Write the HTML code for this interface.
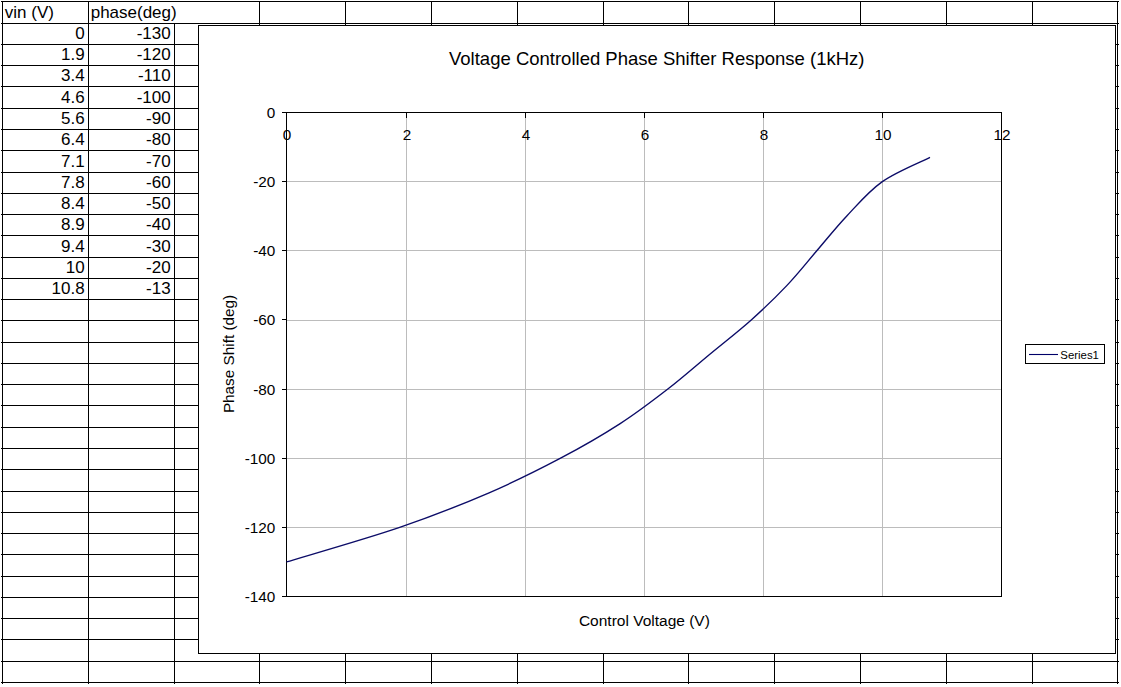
<!DOCTYPE html>
<html><head><meta charset="utf-8"><style>
html,body{margin:0;padding:0;background:#fff;width:1121px;height:687px;overflow:hidden}
svg{display:block}
</style></head><body>
<svg width="1121" height="687" viewBox="0 0 1121 687">
<g stroke="#000" stroke-width="1" shape-rendering="crispEdges"><line x1="1" y1="1.5" x2="1119" y2="1.5"/><line x1="1" y1="23.5" x2="1119" y2="23.5"/><line x1="1" y1="44.5" x2="1119" y2="44.5"/><line x1="1" y1="65.5" x2="1119" y2="65.5"/><line x1="1" y1="86.5" x2="1119" y2="86.5"/><line x1="1" y1="108.5" x2="1119" y2="108.5"/><line x1="1" y1="129.5" x2="1119" y2="129.5"/><line x1="1" y1="150.5" x2="1119" y2="150.5"/><line x1="1" y1="172.5" x2="1119" y2="172.5"/><line x1="1" y1="193.5" x2="1119" y2="193.5"/><line x1="1" y1="214.5" x2="1119" y2="214.5"/><line x1="1" y1="235.5" x2="1119" y2="235.5"/><line x1="1" y1="257.5" x2="1119" y2="257.5"/><line x1="1" y1="278.5" x2="1119" y2="278.5"/><line x1="1" y1="299.5" x2="1119" y2="299.5"/><line x1="1" y1="320.5" x2="1119" y2="320.5"/><line x1="1" y1="342.5" x2="1119" y2="342.5"/><line x1="1" y1="363.5" x2="1119" y2="363.5"/><line x1="1" y1="384.5" x2="1119" y2="384.5"/><line x1="1" y1="405.5" x2="1119" y2="405.5"/><line x1="1" y1="427.5" x2="1119" y2="427.5"/><line x1="1" y1="448.5" x2="1119" y2="448.5"/><line x1="1" y1="469.5" x2="1119" y2="469.5"/><line x1="1" y1="491.5" x2="1119" y2="491.5"/><line x1="1" y1="512.5" x2="1119" y2="512.5"/><line x1="1" y1="533.5" x2="1119" y2="533.5"/><line x1="1" y1="554.5" x2="1119" y2="554.5"/><line x1="1" y1="576.5" x2="1119" y2="576.5"/><line x1="1" y1="597.5" x2="1119" y2="597.5"/><line x1="1" y1="618.5" x2="1119" y2="618.5"/><line x1="1" y1="639.5" x2="1119" y2="639.5"/><line x1="1" y1="661.5" x2="1119" y2="661.5"/><line x1="1" y1="682.5" x2="1119" y2="682.5"/><line x1="2.5" y1="1" x2="2.5" y2="684"/><line x1="88.5" y1="1" x2="88.5" y2="684"/><line x1="174.5" y1="23" x2="174.5" y2="684"/><line x1="259.5" y1="1" x2="259.5" y2="684"/><line x1="345.5" y1="1" x2="345.5" y2="684"/><line x1="431.5" y1="1" x2="431.5" y2="684"/><line x1="517.5" y1="1" x2="517.5" y2="684"/><line x1="603.5" y1="1" x2="603.5" y2="684"/><line x1="688.5" y1="1" x2="688.5" y2="684"/><line x1="774.5" y1="1" x2="774.5" y2="684"/><line x1="860.5" y1="1" x2="860.5" y2="684"/><line x1="946.5" y1="1" x2="946.5" y2="684"/><line x1="1032.5" y1="1" x2="1032.5" y2="684"/><line x1="1117.5" y1="1" x2="1117.5" y2="684"/></g>
<g font-family='"Liberation Sans", sans-serif' font-size="17" fill="#000"><text x="4.8" y="17.5">vin (V)</text><text x="90.7" y="17.5">phase(deg)</text><text x="84.7" y="39" text-anchor="end">0</text><text x="170.7" y="39" text-anchor="end">-130</text><text x="84.7" y="60" text-anchor="end">1.9</text><text x="170.7" y="60" text-anchor="end">-120</text><text x="84.7" y="81" text-anchor="end">3.4</text><text x="170.7" y="81" text-anchor="end">-110</text><text x="84.7" y="103" text-anchor="end">4.6</text><text x="170.7" y="103" text-anchor="end">-100</text><text x="84.7" y="124" text-anchor="end">5.6</text><text x="170.7" y="124" text-anchor="end">-90</text><text x="84.7" y="145" text-anchor="end">6.4</text><text x="170.7" y="145" text-anchor="end">-80</text><text x="84.7" y="167" text-anchor="end">7.1</text><text x="170.7" y="167" text-anchor="end">-70</text><text x="84.7" y="188" text-anchor="end">7.8</text><text x="170.7" y="188" text-anchor="end">-60</text><text x="84.7" y="209" text-anchor="end">8.4</text><text x="170.7" y="209" text-anchor="end">-50</text><text x="84.7" y="230" text-anchor="end">8.9</text><text x="170.7" y="230" text-anchor="end">-40</text><text x="84.7" y="252" text-anchor="end">9.4</text><text x="170.7" y="252" text-anchor="end">-30</text><text x="84.7" y="273" text-anchor="end">10</text><text x="170.7" y="273" text-anchor="end">-20</text><text x="84.7" y="294" text-anchor="end">10.8</text><text x="170.7" y="294" text-anchor="end">-13</text></g>
<rect x="198.5" y="25.5" width="917" height="628" fill="#fff" stroke="#000" stroke-width="1" shape-rendering="crispEdges"/><g stroke="#bcbcbc" stroke-width="1" shape-rendering="crispEdges"><line x1="406.5" y1="112" x2="406.5" y2="596"/><line x1="525.5" y1="112" x2="525.5" y2="596"/><line x1="644.5" y1="112" x2="644.5" y2="596"/><line x1="763.5" y1="112" x2="763.5" y2="596"/><line x1="882.5" y1="112" x2="882.5" y2="596"/><line x1="286" y1="181.5" x2="1001" y2="181.5"/><line x1="286" y1="250.5" x2="1001" y2="250.5"/><line x1="286" y1="320.5" x2="1001" y2="320.5"/><line x1="286" y1="389.5" x2="1001" y2="389.5"/><line x1="286" y1="458.5" x2="1001" y2="458.5"/><line x1="286" y1="527.5" x2="1001" y2="527.5"/></g><rect x="286.5" y="112.5" width="715" height="484" fill="none" stroke="#000" stroke-width="1" shape-rendering="crispEdges"/><g stroke="#000" stroke-width="1" shape-rendering="crispEdges"><line x1="282" y1="112.5" x2="286" y2="112.5"/><line x1="282" y1="181.5" x2="286" y2="181.5"/><line x1="282" y1="250.5" x2="286" y2="250.5"/><line x1="282" y1="319.5" x2="286" y2="319.5"/><line x1="282" y1="389.5" x2="286" y2="389.5"/><line x1="282" y1="458.5" x2="286" y2="458.5"/><line x1="282" y1="527.5" x2="286" y2="527.5"/><line x1="282" y1="596.5" x2="286" y2="596.5"/><line x1="406.5" y1="112" x2="406.5" y2="118"/><line x1="525.5" y1="112" x2="525.5" y2="118"/><line x1="644.5" y1="112" x2="644.5" y2="118"/><line x1="763.5" y1="112" x2="763.5" y2="118"/><line x1="882.5" y1="112" x2="882.5" y2="118"/><line x1="1001.5" y1="112" x2="1001.5" y2="118"/></g><g font-family='"Liberation Sans", sans-serif' font-size="15.3" fill="#000"><text x="275.3" y="117.90" text-anchor="end">0</text><text x="275.3" y="186.90" text-anchor="end">-20</text><text x="275.3" y="255.90" text-anchor="end">-40</text><text x="275.3" y="324.90" text-anchor="end">-60</text><text x="275.3" y="394.90" text-anchor="end">-80</text><text x="275.3" y="463.90" text-anchor="end">-100</text><text x="275.3" y="532.90" text-anchor="end">-120</text><text x="275.3" y="601.90" text-anchor="end">-140</text><text x="287.00" y="140" text-anchor="middle">0</text><text x="407.00" y="140" text-anchor="middle">2</text><text x="526.00" y="140" text-anchor="middle">4</text><text x="645.00" y="140" text-anchor="middle">6</text><text x="764.00" y="140" text-anchor="middle">8</text><text x="883.00" y="140" text-anchor="middle">10</text><text x="1002.00" y="140" text-anchor="middle">12</text></g><text x="656.75" y="65.1" text-anchor="middle" font-family='"Liberation Sans", sans-serif' font-size="18.5" fill="#000">Voltage Controlled Phase Shifter Response (1kHz)</text><text x="644.4" y="626.2" text-anchor="middle" font-family='"Liberation Sans", sans-serif' font-size="15.5" fill="#000">Control Voltage (V)</text><text transform="translate(234,354) rotate(-90)" x="0" y="0" text-anchor="middle" font-family='"Liberation Sans", sans-serif' font-size="15.3" fill="#000">Phase Shift (deg)</text><path d="M286.50,561.93 C305.37,556.17 365.94,538.88 399.71,527.36 C433.47,515.83 462.27,504.31 489.08,492.79 C515.90,481.26 538.74,469.74 560.58,458.21 C582.43,446.69 602.29,435.17 620.17,423.64 C638.04,412.12 652.94,400.60 667.83,389.07 C682.73,377.55 695.64,366.02 709.54,354.50 C723.44,342.98 738.34,331.45 751.25,319.93 C764.16,308.40 776.08,296.88 787.00,285.36 C797.92,273.83 806.86,262.31 816.79,250.79 C826.72,239.26 835.66,227.74 846.58,216.21 C857.51,204.69 868.43,191.44 882.33,181.64 C896.24,171.85 922.06,161.48 930.00,157.44" fill="none" stroke="#0c0c68" stroke-width="1.4"/><rect x="1025.5" y="344.5" width="79" height="19" fill="#fff" stroke="#000" stroke-width="1" shape-rendering="crispEdges"/><line x1="1029" y1="354.5" x2="1058" y2="354.5" stroke="#000068" stroke-width="1.1"/><text x="1060.3" y="358.7" font-family='"Liberation Sans", sans-serif' font-size="11.4" fill="#000">Series1</text>
</svg>
</body></html>
